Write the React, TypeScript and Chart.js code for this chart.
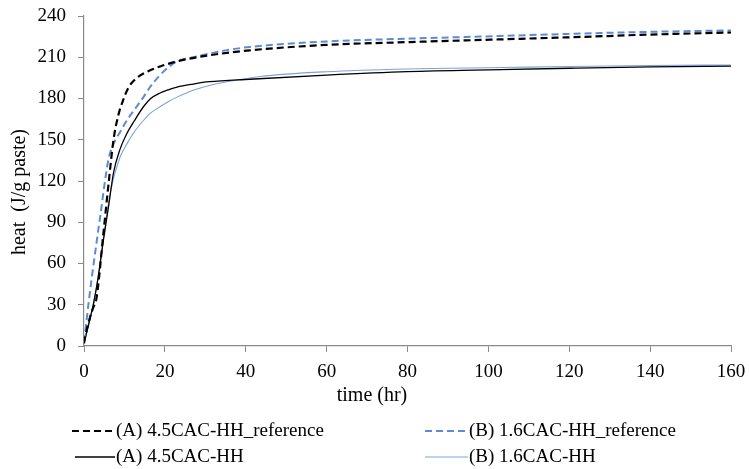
import React, { useEffect, useRef } from "react";
import { Chart, registerables } from "chart.js";

Chart.register(...registerables);

// ---- data ----
const aRefTime = [0, 0.3, 1.5, 2.3, 3.1, 4.8, 6, 7.3, 8.5, 9.7, 11, 12.5, 14, 16, 19, 23, 30, 41, 60, 80, 103, 120, 140, 160];
const aRefHeat = [2, 7, 21, 28, 35, 82, 116, 150, 168, 179, 188, 193.5, 197, 200, 203.5, 207, 211, 215, 219, 221, 223, 224.5, 226.5, 228];

const bRefTime = [0, 0.5, 1.2, 2.3, 4, 6, 7.3, 9, 10.6, 12.5, 14.7, 16.5, 18.8, 21, 23, 27, 35, 41, 60, 80, 103, 120, 140, 160];
const bRefHeat = [3, 15, 33, 58, 94, 135, 147, 156, 164, 172, 181, 189, 197, 203, 207, 210, 215, 217.5, 221.5, 223.5, 225.5, 227, 228.5, 229.5];

const aTime = [0, 0.5, 1.5, 2.3, 3.5, 4.8, 6, 7.3, 8.9, 10.6, 12.5, 14.7, 16.5, 18.8, 21, 23, 27, 31, 41, 60, 80, 103, 120, 140, 160];
const aHeat = [2, 8, 20, 30, 50, 77, 100, 126, 143, 154.5, 164, 174, 180, 184, 186.5, 188.3, 190.5, 192.2, 194, 197, 199.5, 201, 202, 203, 203.6];

const bTime = [0, 0.5, 1.5, 2.3, 3.5, 4.8, 6, 7.3, 8.1, 9, 10.6, 12.5, 14.7, 16.5, 18.8, 21, 23, 27, 31, 35, 43.6, 60, 80, 103, 120, 140, 160];
const bHeat = [2, 8, 20, 30, 50, 78, 103, 122, 130, 138, 147, 156, 164, 169.5, 174, 178, 181, 186, 189.5, 192, 196, 199.5, 201.5, 202.5, 203.3, 204, 204.4];

const seriesLabels = [
  "(A) 4.5CAC-HH_reference",
  "(B) 1.6CAC-HH_reference",
  "(A) 4.5CAC-HH",
  "(B) 1.6CAC-HH",
];

const xMin = 0;
const xMax = 160;
const xStep = 20;
const yMin = 0;
const yMax = 240;
const yStep = 30;

const xTitle = "time (hr)";
const yTitle = "heat  (J/g paste)";

const FONT = "'Liberation Serif', 'Times New Roman', serif";
const AXIS_GRAY = "#8a8a8a";

const toXY = (t: number[], h: number[]) => t.map((x, i) => ({ x, y: h[i] }));

const textPlugin = {
  id: "customTexts",
  afterDraw(chart: any) {
    const ctx = chart.ctx as CanvasRenderingContext2D;
    ctx.save();
    ctx.fillStyle = "#000";
    ctx.textBaseline = "middle";

    // axis titles
    ctx.font = `20px ${FONT}`;
    ctx.textAlign = "center";
    ctx.fillText(xTitle, 372, 396);
    ctx.save();
    ctx.translate(20, 192);
    ctx.rotate(-Math.PI / 2);
    ctx.fillText(yTitle, 0, 0);
    ctx.restore();

    // legend (2 columns x 2 rows)
    const slots = [
      { x0: 72, x1: 115, y: 431 },
      { x0: 425, x1: 468, y: 431 },
      { x0: 75, x1: 115, y: 457 },
      { x0: 425, x1: 468, y: 457 },
    ];
    ctx.font = `19px ${FONT}`;
    ctx.textAlign = "left";
    chart.data.datasets.forEach((ds: any, i: number) => {
      const s = slots[i];
      ctx.save();
      ctx.strokeStyle = ds.borderColor;
      ctx.lineWidth = ds.borderWidth;
      ctx.setLineDash(ds.borderDash || []);
      ctx.beginPath();
      ctx.moveTo(s.x0, s.y);
      ctx.lineTo(s.x1, s.y);
      ctx.stroke();
      ctx.restore();
      ctx.fillStyle = "#000";
      ctx.fillText(ds.label, s.x1 + 1, s.y);
    });
    ctx.restore();
  },
};

export default function App() {
  const ref = useRef<HTMLCanvasElement | null>(null);

  useEffect(() => {
    document.body.style.margin = "0";
    const canvas = ref.current;
    if (!canvas) return;
    const chart = new Chart(canvas, {
      type: "line",
      data: {
        datasets: [
          {
            label: seriesLabels[0],
            data: toXY(aRefTime, aRefHeat),
            borderColor: "#000000",
            borderWidth: 2.2,
            borderDash: [7, 4],
          },
          {
            label: seriesLabels[1],
            data: toXY(bRefTime, bRefHeat),
            borderColor: "#5b8bd4",
            borderWidth: 2,
            borderDash: [7, 4],
          },
          {
            label: seriesLabels[2],
            data: toXY(aTime, aHeat),
            borderColor: "#000000",
            borderWidth: 1.3,
          },
          {
            label: seriesLabels[3],
            data: toXY(bTime, bHeat),
            borderColor: "#7ba3d8",
            borderWidth: 1.1,
          },
        ] as any,
      },
      options: {
        animation: false,
        responsive: false,
        devicePixelRatio: 1,
        elements: {
          point: { radius: 0 },
          line: { cubicInterpolationMode: "monotone", fill: false },
        },
        layout: { padding: { top: 16, right: 18, bottom: 83, left: 0 } },
        plugins: {
          legend: { display: false },
          tooltip: { enabled: false },
        },
        scales: {
          x: {
            type: "linear",
            min: xMin,
            max: xMax,
            afterFit: (s: any) => {
              s.height = 40;
              s.paddingLeft = 0;
              s.paddingRight = 0;
            },
            ticks: {
              stepSize: xStep,
              color: "#000",
              font: { family: FONT, size: 19 },
              padding: 9,
              maxRotation: 0,
            },
            grid: {
              drawOnChartArea: false,
              drawTicks: true,
              tickLength: 6,
              color: AXIS_GRAY,
              tickColor: AXIS_GRAY,
            },
            border: { display: true, color: AXIS_GRAY, width: 1.2 },
          },
          y: {
            type: "linear",
            min: yMin,
            max: yMax,
            afterFit: (s: any) => {
              s.width = 84;
              s.paddingTop = 0;
              s.paddingBottom = 0;
            },
            ticks: {
              stepSize: yStep,
              color: "#000",
              font: { family: FONT, size: 19 },
              padding: 12,
            },
            grid: {
              drawOnChartArea: false,
              drawTicks: true,
              tickLength: 6,
              color: AXIS_GRAY,
              tickColor: AXIS_GRAY,
            },
            border: { display: true, color: AXIS_GRAY, width: 1.2 },
          },
        },
      },
      plugins: [textPlugin],
    });
    return () => chart.destroy();
  }, []);

  return (
    <div style={{ position: "absolute", left: 0, top: 0, width: 749, height: 469, background: "#fff" }}>
      <canvas ref={ref} width={749} height={469} style={{ width: 749, height: 469, display: "block" }} />
    </div>
  );
}
